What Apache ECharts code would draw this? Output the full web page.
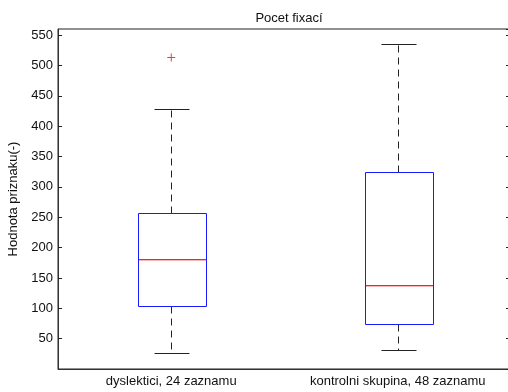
<!DOCTYPE html>
<html>
<head>
<meta charset="utf-8">
<script src="https://cdn.jsdelivr.net/npm/echarts@6/dist/echarts.min.js"></script>
<style>
  html, body { margin: 0; padding: 0; background: #fff; }
  #chart { width: 508px; height: 392px; }
</style>
</head>
<body>
<div id="chart"></div>
<script>
const categories = ["dyslektici, 24 zaznamu", "kontrolni skupina, 48 zaznamu"];
const lowerWhisker = [27, 32];
const q1 = [104, 74];
const median = [181, 138];
const q3 = [257, 325];
const upperWhisker = [429, 535];
const outliers = [[0, 513]];

const font = "Liberation Sans, Arial, sans-serif";
const chart = echarts.init(document.getElementById("chart"));

const boxData = categories.map((c, i) => [i, lowerWhisker[i], q1[i], median[i], q3[i], upperWhisker[i]]);

const px = v => Math.round(v) + 0.5;

function renderBox(params, api) {
  const i = api.value(0);
  const lo = api.coord([i, api.value(1)]);
  const b1 = api.coord([i, api.value(2)]);
  const md = api.coord([i, api.value(3)]);
  const b3 = api.coord([i, api.value(4)]);
  const hi = api.coord([i, api.value(5)]);
  const band = api.size([1, 0])[0];
  const bw = band * 0.3 / 2;
  const cw = band * 0.155 / 2;
  const cx = px(lo[0]);
  const left = px(cx - bw);
  const width = Math.round(2 * bw);
  const dash = { stroke: "#222", lineWidth: 1, lineDash: [7, 5] };
  const solid = { stroke: "#222", lineWidth: 1 };
  return {
    type: "group",
    children: [
      // whiskers
      { type: "line", shape: { x1: cx, y1: px(b3[1]), x2: cx, y2: px(hi[1]) }, style: dash },
      { type: "line", shape: { x1: cx, y1: px(b1[1]), x2: cx, y2: px(lo[1]) }, style: dash },
      // caps
      { type: "line", shape: { x1: px(cx - cw), y1: px(hi[1]), x2: px(cx + cw), y2: px(hi[1]) }, style: solid },
      { type: "line", shape: { x1: px(cx - cw), y1: px(lo[1]), x2: px(cx + cw), y2: px(lo[1]) }, style: solid },
      // box
      {
        type: "rect",
        shape: { x: left, y: px(b3[1]), width: width, height: Math.round(b1[1] - b3[1]) },
        style: { fill: "#fff", stroke: "#1a1aff", lineWidth: 1 }
      },
      // median (solid row plus a soft row under it, like the original)
      {
        type: "rect",
        z2: 10,
        shape: { x: left + 0.5, y: Math.round(md[1]) + 1, width: width - 1, height: 1 },
        style: { fill: "#ffb3b3" }
      },
      {
        type: "rect",
        z2: 11,
        shape: { x: left + 0.5, y: Math.round(md[1]), width: width - 1, height: 1 },
        style: { fill: "#ff2020" }
      }
    ]
  };
}

const option = {
  animation: false,
  backgroundColor: "#fff",
  textStyle: { fontFamily: font },
  title: {
    text: "Pocet fixací",
    left: 284,
    textAlign: "center",
    top: 7,
    textStyle: { fontFamily: font, fontSize: 13, fontWeight: "normal", color: "#111" }
  },
  grid: {
    left: 58, right: -3, top: 29, bottom: 23,
    outerBoundsMode: "none",
    show: true, borderColor: "#222", borderWidth: 1, backgroundColor: "#fff"
  },
  xAxis: {
    type: "category",
    data: categories,
    axisLine: { lineStyle: { color: "#333" } },
    axisTick: { show: false },
    axisLabel: { color: "#111", fontSize: 13, fontFamily: font, margin: 6, interval: 0 },
    splitLine: { show: false }
  },
  yAxis: [
    {
      type: "value",
      min: 0,
      max: 560,
      interval: 50,
      name: "Hodnota priznaku(-)",
      nameLocation: "middle",
      nameGap: 33,
      nameTextStyle: { color: "#111", fontSize: 13, fontFamily: font },
      axisLine: { show: true, lineStyle: { color: "#333" } },
      axisTick: { show: true, inside: true, length: 4, lineStyle: { color: "#222" } },
      axisLabel: { color: "#111", fontSize: 13, fontFamily: font, margin: 5, showMinLabel: false, showMaxLabel: false },
      splitLine: { show: false }
    },
    {
      type: "value",
      min: 0,
      max: 560,
      interval: 50,
      position: "right",
      axisLine: { show: true, lineStyle: { color: "#222" } },
      axisTick: { show: true, inside: true, length: 5, lineStyle: { color: "#222" } },
      axisLabel: { show: false },
      splitLine: { show: false }
    }
  ],
  series: [
    {
      type: "custom",
      renderItem: renderBox,
      data: boxData,
      encode: { x: 0, y: [1, 2, 3, 4, 5] },
      z: 3
    },
    {
      type: "scatter",
      data: outliers,
      symbol: "path://M0,3.5H8V4.5H0Z M3.5,0H4.5V8H3.5Z",
      symbolSize: 8,
      itemStyle: { color: "#ff0000" },
      z: 4
    }
  ]
};

chart.setOption(option);
</script>
</body>
</html>
